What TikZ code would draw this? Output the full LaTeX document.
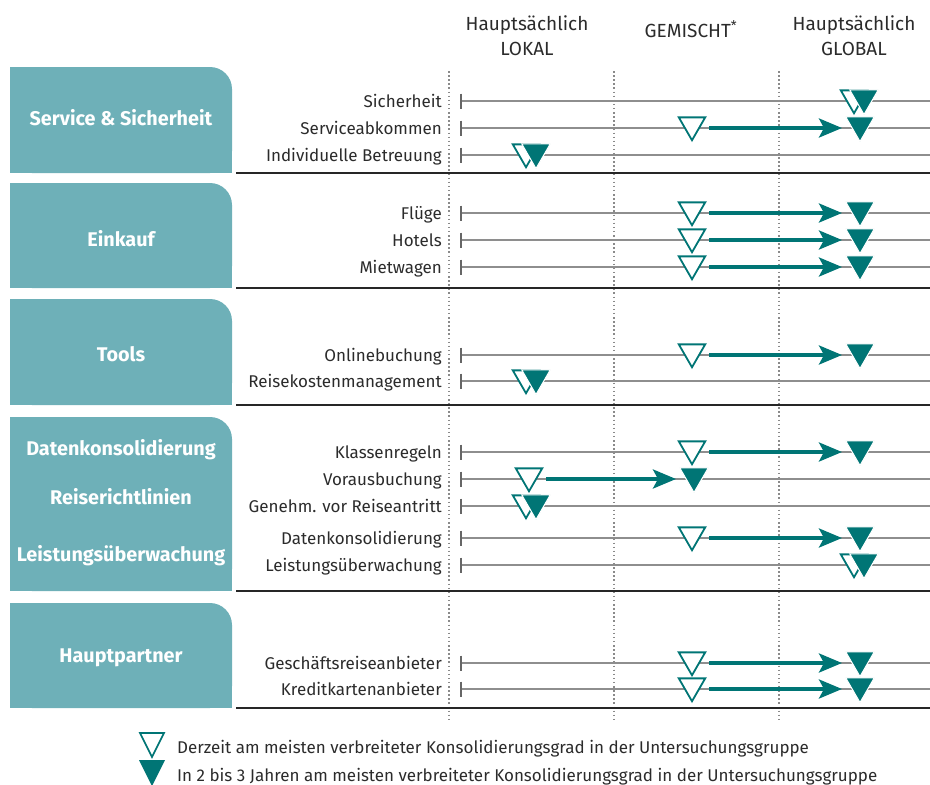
\documentclass[tikz,border=0pt]{standalone}
\usepackage{fontspec}
\setmainfont{Fira Sans}
\usetikzlibrary{shapes.geometric,arrows.meta,calc}

\definecolor{boxteal}{HTML}{6EB0B8}
\definecolor{markteal}{HTML}{007575}
\definecolor{txt}{HTML}{2B2B2B}
\definecolor{rowgray}{HTML}{8E8E8E}
\definecolor{tickgray}{HTML}{666666}
\definecolor{dotgray}{HTML}{8A8A8A}

% one chart row: label, start tick and grey guide line
\newcommand\chartrow[3]{%
  \node[rowlabel] (#1) at (442,#2+6.5) {#3};
  \coordinate (#1-s) at (461,#2);
  \coordinate (#1-e) at (930,#2);
  \draw[rowline] (#1-s) -- (#1-e);
  \draw[rowtick] ($(#1-s)+(0,-7.5)$) -- ($(#1-s)+(0,7.5)$);
}
% current / expected degree of consolidation on a row
\newcommand\nowmark[3]{\node[openmark] (#1) at (#2,#3-3) {};}
\newcommand\futmark[3]{\node[fullmark] (#1) at (#2,#3-3) {};}
\newcommand\shiftarrow[2]{%
  \draw[trend] ($(#1.center)+(17,3)$) -- ($(#2.center)+(-18,3)$);}
% category panel with a single rounded corner (top right)
\newcommand\catpanel[2]{%
  \fill[boxteal] (10,#1) rectangle (120,#2);
  \fill[boxteal] (10,#1/2+#2/2) rectangle (232,#2);
  \fill[boxteal, rounded corners=22pt] (10,#1) rectangle (232,#2);
  \draw[sepline] (236,#2) -- (930,#2);
}

\begin{document}
\begin{tikzpicture}[x=1pt,y=-1pt,
  rowlabel/.style={anchor=base east, inner sep=0pt, text=txt,
    font=\fontsize{17}{19}\selectfont},
  catlabel/.style={text=white, inner sep=0pt,
    font=\fontsize{19.8}{22}\selectfont\bfseries},
  headlabel/.style={text=txt, align=center, inner sep=0pt,
    font=\fontsize{19}{25}\selectfont},
  legendlabel/.style={anchor=base west, inner sep=0pt, text=txt,
    font=\fontsize{17}{19}\selectfont},
  rowline/.style={draw=rowgray, line width=1.2pt},
  rowtick/.style={draw=tickgray, line width=1.2pt},
  sepline/.style={draw=black!85, line width=1.5pt},
  dotline/.style={draw=dotgray, line width=1.5pt, dash pattern=on 1.5pt off 2.6pt},
  openmark/.style={regular polygon, regular polygon sides=3,
    shape border rotate=180, minimum size=30.5pt, inner sep=0pt, outer sep=0pt,
    draw=markteal, line width=1.8pt, fill=white},
  fullmark/.style={regular polygon, regular polygon sides=3,
    shape border rotate=180, minimum size=33pt, inner sep=0pt, outer sep=0pt,
    draw=white, line width=1pt, fill=markteal},
  trend/.style={draw=markteal, line width=3.6pt,
    -{Stealth[length=23pt, width=19pt, inset=5pt]}},
]
\useasboundingbox (0,0) rectangle (930,785);

% column headings
\node[headlabel] (hlokal) at (527,36) {Hauptsächlich\\LOKAL};
\node[headlabel, anchor=base] (hmix) at (691,37) {GEMISCHT\textsuperscript{*}};
\node[headlabel] (hglobal) at (854,36) {Hauptsächlich\\GLOBAL};

% column separators
\draw[dotline] (449,71) -- (449,720);
\draw[dotline] (614,71) -- (614,720);
\draw[dotline] (779,71) -- (779,720);

% category panels
\catpanel{67}{173}
\catpanel{183}{288}
\catpanel{299}{405}
\catpanel{417}{591}
\catpanel{603}{708}

\node[catlabel] (cservice) at (121,118) {Service \& Sicherheit};
\node[catlabel] (ceinkauf) at (121,239) {Einkauf};
\node[catlabel] (ctools) at (121,354) {Tools};
\node[catlabel] (cdaten) at (121,450) {Datenkonsolidierung};
\node[catlabel] (crichtl) at (121,497) {Reiserichtlinien};
\node[catlabel] (cleist) at (121,556) {Leistungsüberwachung};
\node[catlabel] (cpartner) at (121,658) {Hauptpartner};

% rows
\chartrow{r1}{101}{Sicherheit}
\chartrow{r2}{128}{Serviceabkommen}
\chartrow{r3}{155}{Individuelle Betreuung}
\chartrow{r4}{213}{Flüge}
\chartrow{r5}{240}{Hotels}
\chartrow{r6}{267}{Mietwagen}
\chartrow{r7}{355}{Onlinebuchung}
\chartrow{r8}{381}{Reisekostenmanagement}
\chartrow{r9}{452}{Klassenregeln}
\chartrow{r10}{479}{Vorausbuchung}
\chartrow{r11}{506}{Genehm. vor Reiseantritt}
\chartrow{r12}{538}{Datenkonsolidierung}
\chartrow{r13}{565}{Leistungsüberwachung}
\chartrow{r14}{663}{Geschäftsreiseanbieter}
\chartrow{r15}{689}{Kreditkartenanbieter}

% markers: open = today, filled = in 2 to 3 years
\nowmark{n1}{854}{101}   \futmark{f1}{864}{101}
\nowmark{n2}{692}{128}   \futmark{f2}{860}{128}   \shiftarrow{n2}{f2}
\nowmark{n3}{526}{155}   \futmark{f3}{536}{155}
\nowmark{n4}{692}{213}   \futmark{f4}{860}{213}   \shiftarrow{n4}{f4}
\nowmark{n5}{692}{240}   \futmark{f5}{860}{240}   \shiftarrow{n5}{f5}
\nowmark{n6}{692}{267}   \futmark{f6}{860}{267}   \shiftarrow{n6}{f6}
\nowmark{n7}{692}{355}   \futmark{f7}{860}{355}   \shiftarrow{n7}{f7}
\nowmark{n8}{526}{381}   \futmark{f8}{536}{381}
\nowmark{n9}{692}{452}   \futmark{f9}{860}{452}   \shiftarrow{n9}{f9}
\nowmark{n10}{529}{479}  \futmark{f10}{694}{479}  \shiftarrow{n10}{f10}
\nowmark{n11}{526}{506}  \futmark{f11}{536}{506}
\nowmark{n12}{692}{538}  \futmark{f12}{860}{538}  \shiftarrow{n12}{f12}
\nowmark{n13}{854}{565}  \futmark{f13}{864}{565}
\nowmark{n14}{692}{663}  \futmark{f14}{860}{663}  \shiftarrow{n14}{f14}
\nowmark{n15}{692}{689}  \futmark{f15}{860}{689}  \shiftarrow{n15}{f15}

% legend
\draw[markteal, line width=1.6pt, line join=miter, fill=white]
  (140,733) -- (164,733) -- (152,757) -- cycle;
\fill[markteal] (139,760) -- (165,760) -- (152,786) -- cycle;
\node[legendlabel] (lnow) at (177,753)
  {Derzeit am meisten verbreiteter Konsolidierungsgrad in der Untersuchungsgruppe};
\node[legendlabel] (lfut) at (177,781)
  {In 2 bis 3 Jahren am meisten verbreiteter Konsolidierungsgrad in der Untersuchungsgruppe};
\end{tikzpicture}
\end{document}
